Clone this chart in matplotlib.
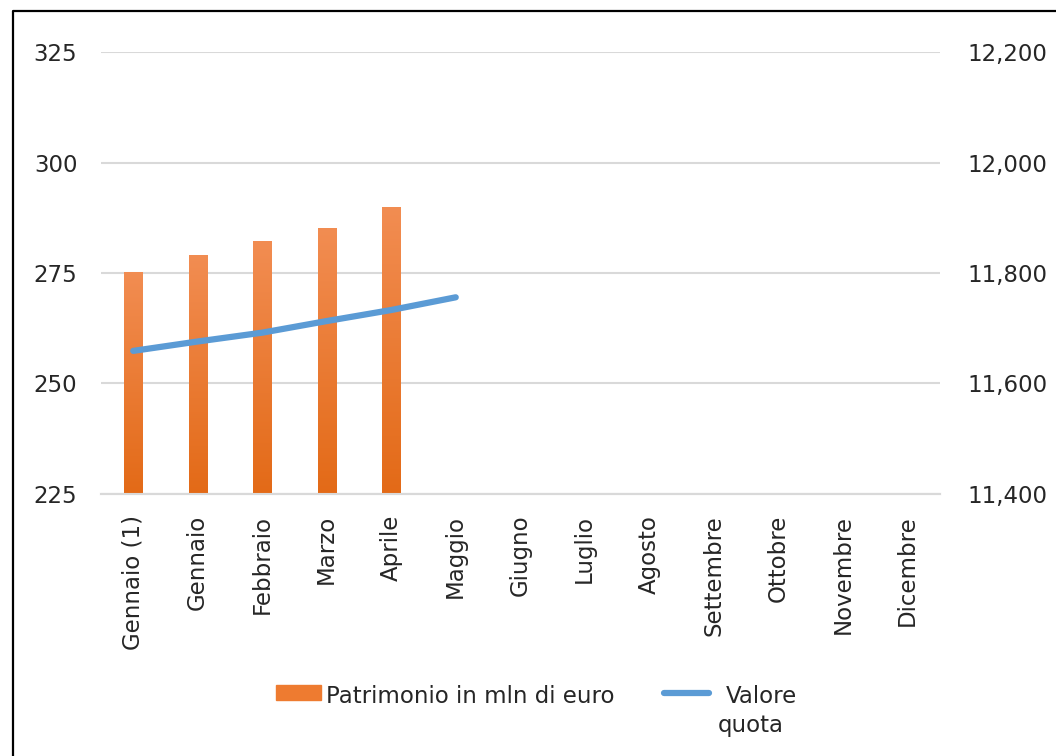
"""
Patrimonio (bars, left axis) and valore quota (line, right axis) by month.
"""

import matplotlib

matplotlib.use("Agg")
import matplotlib.pyplot as plt
import numpy as np
from matplotlib.lines import Line2D
from matplotlib.patches import Rectangle

plt.rcParams["font.family"] = ["DejaVu Sans"]

# Data.
months = ["Gennaio (1)", "Gennaio", "Febbraio", "Marzo", "Aprile", "Maggio",
          "Giugno", "Luglio", "Agosto", "Settembre", "Ottobre", "Novembre",
          "Dicembre"]
patrimonio = [275.3, 279.1, 282.2, 285.2, 290.0]
valore_quota = [11659, 11676, 11692, 11713, 11733, 11756]

left_ticks = [225, 250, 275, 300, 325]
right_ticks = [11400, 11600, 11800, 12000, 12200]

BAR_TOP = "#F28D52"
BAR_BOTTOM = "#E36A17"
LINE_COLOR = "#5B9BD5"
TEXT_COLOR = "#262626"
GRID_COLOR = "#D9D9D9"
FS = 16.5

fig = plt.figure(figsize=(10.56, 7.56), dpi=100)
ax = fig.add_axes([0.0956, 0.3466, 0.7941, 0.5846])
ax2 = ax.twinx()

x = np.arange(len(months))

# Bars with a vertical orange gradient.
bars = ax.bar(x[:len(patrimonio)], np.array(patrimonio) - left_ticks[0],
              bottom=left_ticks[0], width=0.28, color=BAR_BOTTOM, zorder=2)
cmap = matplotlib.colors.LinearSegmentedColormap.from_list("bar", [BAR_BOTTOM, BAR_TOP])
grad = np.linspace(0, 1, 256).reshape(-1, 1)
for b in bars:
    x0, y0 = b.get_x(), b.get_y()
    w, h = b.get_width(), b.get_height()
    im = ax.imshow(grad, cmap=cmap, aspect="auto", origin="lower",
                   extent=[x0, x0 + w, y0, y0 + h], zorder=3)
    im.set_clip_path(b)

ax2.plot(x[:len(valore_quota)], valore_quota, color=LINE_COLOR, lw=4.5,
         solid_capstyle="round", zorder=4)

ax.set_xlim(-0.5, len(months) - 0.5)
ax.set_ylim(left_ticks[0], left_ticks[-1])
ax2.set_ylim(right_ticks[0], right_ticks[-1])

ax.set_yticks(left_ticks)
ax.set_yticklabels([str(t) for t in left_ticks])
ax2.set_yticks(right_ticks)
ax2.set_yticklabels([f"{t:,}" for t in right_ticks])
ax.set_xticks(x)
ax.set_xticklabels(months, rotation=90)

ax.tick_params(axis="y", length=0, pad=17, labelsize=FS, labelcolor=TEXT_COLOR)
ax2.tick_params(axis="y", length=0, pad=20, labelsize=FS, labelcolor=TEXT_COLOR)
ax.tick_params(axis="x", length=0, pad=15, labelsize=FS, labelcolor=TEXT_COLOR)

ax.grid(axis="y", color=GRID_COLOR, lw=1.5, zorder=0)
ax.set_axisbelow(True)
for a in (ax, ax2):
    for side in ("left", "right", "top"):
        a.spines[side].set_visible(False)
    a.spines["bottom"].set_color(GRID_COLOR)
    a.spines["bottom"].set_linewidth(1.5)
ax.set_zorder(ax2.get_zorder() - 1)
ax2.patch.set_visible(False)
ax.patch.set_visible(False)

# Legend, laid out like the original (two-line label for the line).
W, H = 1056, 756
def fx(px):
    return px / W
def fy(py):
    return 1 - py / H

fig.add_artist(Rectangle((fx(276), fy(700)), fx(45), 15 / H, transform=fig.transFigure,
                         color="#EE7B30"))
fig.text(fx(326), fy(703), "Patrimonio in mln di euro", fontsize=FS,
         color=TEXT_COLOR, va="baseline", ha="left")
fig.add_artist(Line2D([fx(664), fx(709)], [fy(693), fy(693)], transform=fig.transFigure,
                      color=LINE_COLOR, lw=4.5, solid_capstyle="round"))
fig.text(fx(761), fy(703), "Valore", fontsize=FS, color=TEXT_COLOR,
         va="baseline", ha="center")
fig.text(fx(751), fy(732), "quota", fontsize=FS, color=TEXT_COLOR,
         va="baseline", ha="center")

# Outer frame (only top and left edges fall inside the image).
fig.add_artist(Line2D([fx(13), fx(13), 1.0], [0.0, fy(11), fy(11)],
                      transform=fig.transFigure, color="black", lw=1.6))

fig.savefig("out.png", dpi=100)
